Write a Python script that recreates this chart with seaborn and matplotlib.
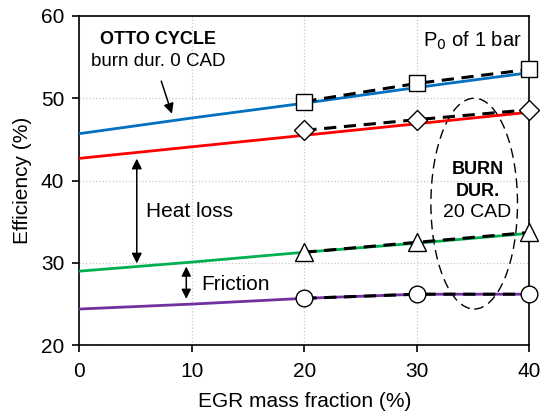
import numpy as np
import pandas as pd
import seaborn as sns
import matplotlib.pyplot as plt
from matplotlib.patches import Ellipse

# Otto cycle / model lines (solid)
egr_line = [0, 10, 20, 30, 40]
otto = [45.7, 47.6, 49.4, 51.3, 53.1]
heat = [42.7, 44.1, 45.5, 46.9, 48.3]
fric = [29.0, 30.1, 31.3, 32.4, 33.6]
brake = [24.4, 25.0, 25.7, 26.2, 26.2]

# burn duration 20 CAD points (dashed + markers)
egr_pts = [20, 30, 40]
otto_pts = [49.6, 51.8, 53.5]
heat_pts = [46.1, 47.4, 48.6]
fric_pts = [31.3, 32.5, 33.7]
brake_pts = [25.7, 26.2, 26.2]

sns.set_style("ticks", {'text.color': 'black', 'axes.labelcolor': 'black',
                        'xtick.color': 'black', 'ytick.color': 'black'})
plt.rcParams['font.family'] = ['Liberation Sans', 'DejaVu Sans']

fig = plt.figure(figsize=(5.44, 4.18), dpi=100)
ax = fig.add_axes([0.146, 0.174, 0.827, 0.788])

line_colors = ['#0070C0', '#FF0000', '#00B050', '#7030A0']
for ys, c in zip([otto, heat, fric, brake], line_colors):
    sns.lineplot(x=egr_line, y=ys, color=c, lw=2, ax=ax, zorder=3)

for ys, m, ms in zip([otto_pts, heat_pts, fric_pts, brake_pts],
                     ['s', 'D', '^', 'o'], [12, 10, 13, 12]):
    sns.lineplot(x=egr_pts, y=ys, color='black', lw=2.2, ax=ax, zorder=4,
                 dashes=False, linestyle=(0, (4, 2.5)))
    ax.plot(egr_pts, ys, linestyle='none', marker=m, ms=ms, mfc='white',
            mec='black', mew=1.0, zorder=5, clip_on=False)

ax.set_xlim(0, 40)
ax.set_ylim(20, 60)
ax.set_xticks([0, 10, 20, 30, 40])
ax.set_yticks([20, 30, 40, 50, 60])
ax.grid(True, color='#c8c8c8', linestyle=':', lw=0.9)
ax.tick_params(labelsize=15, length=5, width=1.2, color='black', labelcolor='black')
ax.tick_params(axis='x', pad=7)
ax.tick_params(axis='y', pad=6)
for s in ax.spines.values():
    s.set_linewidth(1.2)
    s.set_color('black')
ax.set_xlabel('EGR mass fraction (%)', fontsize=15, labelpad=8, color='black')
ax.set_ylabel('Efficiency (%)', fontsize=15, labelpad=6, color='black')

# annotations
ax.text(7.0, 57.1, 'OTTO CYCLE', fontsize=13, fontweight='bold', ha='center', va='center')
ax.text(7.0, 54.4, 'burn dur. 0 CAD', fontsize=13.5, ha='center', va='center')
ax.annotate('', xy=(8.3, 47.8), xytext=(7.2, 52.4),
            arrowprops=dict(arrowstyle='-|>', color='black', lw=1.1, mutation_scale=15))
ax.text(39.3, 57.0, 'P$_0$ of 1 bar', fontsize=14.5, ha='right', va='center')

ax.annotate('', xy=(5.1, 29.6), xytext=(5.1, 43.0),
            arrowprops=dict(arrowstyle='<|-|>', color='black', lw=1.1, mutation_scale=15))
ax.text(5.9, 36.2, 'Heat loss', fontsize=15, va='center')
ax.annotate('', xy=(9.5, 25.3), xytext=(9.5, 29.9),
            arrowprops=dict(arrowstyle='<|-|>', color='black', lw=1.1, mutation_scale=14))
ax.text(10.8, 27.4, 'Friction', fontsize=15, va='center')

ax.add_patch(Ellipse((35.1, 37.2), 7.7, 25.6, fill=False, ls=(0, (7, 4)),
                     lw=1.0, ec='black', zorder=2))
ax.text(35.4, 41.3, 'BURN', fontsize=13, fontweight='bold', ha='center', va='center')
ax.text(35.4, 38.7, 'DUR.', fontsize=13, fontweight='bold', ha='center', va='center')
ax.text(35.4, 36.1, '20 CAD', fontsize=14, ha='center', va='center')

fig.savefig('out.png', dpi=100)
